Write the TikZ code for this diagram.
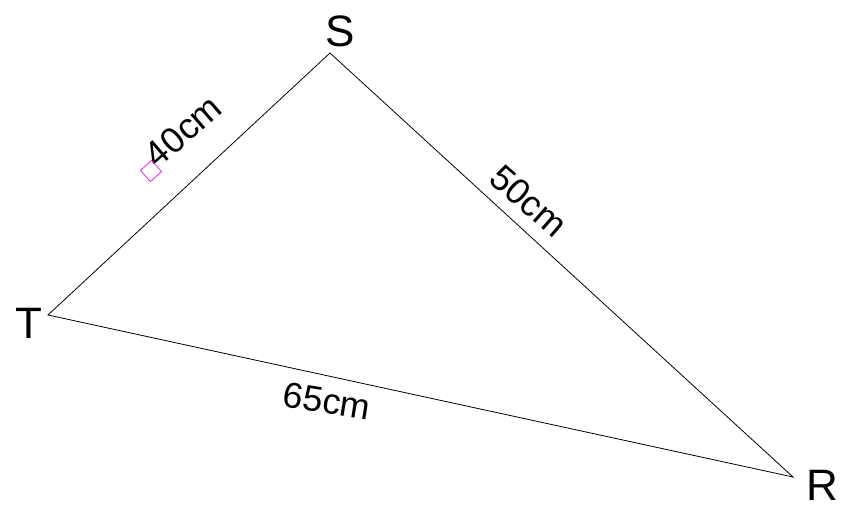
\documentclass[tikz,border=0pt]{standalone}
\usepackage{fontspec}
\setmainfont{Liberation Sans}
\begin{document}
\begin{tikzpicture}[x=1pt,y=-1pt,
  vlabel/.style={font=\fontsize{44}{44}\selectfont, inner sep=0pt},
  slabel/.style={font=\fontsize{36}{36}\selectfont, inner sep=0pt},
  side/.style={draw=black, line width=0.8pt}]
\useasboundingbox (0,0) rectangle (844,508);
\coordinate (S) at (330,53);
\coordinate (T) at (48,315);
\coordinate (R) at (793,477);
\draw[side] (S) -- (R) -- (T) -- cycle;
\node[vlabel] (ls) at (340,31) {S};
\node[vlabel] (lt) at (29,323) {T};
\node[vlabel] (lr) at (822,485) {R};
\node[slabel, rotate=41] (a) at (183,131) {40cm};
\node[slabel, rotate=-41] (b) at (529,201) {50cm};
\node[slabel, rotate=-9] (c) at (327,401) {65cm};
\node[draw={rgb,255:red,230;green,40;blue,230}, line width=0.8pt, minimum size=15pt, inner sep=0pt, rotate=42] (m) at (151,171) {};
\end{tikzpicture}
\end{document}
